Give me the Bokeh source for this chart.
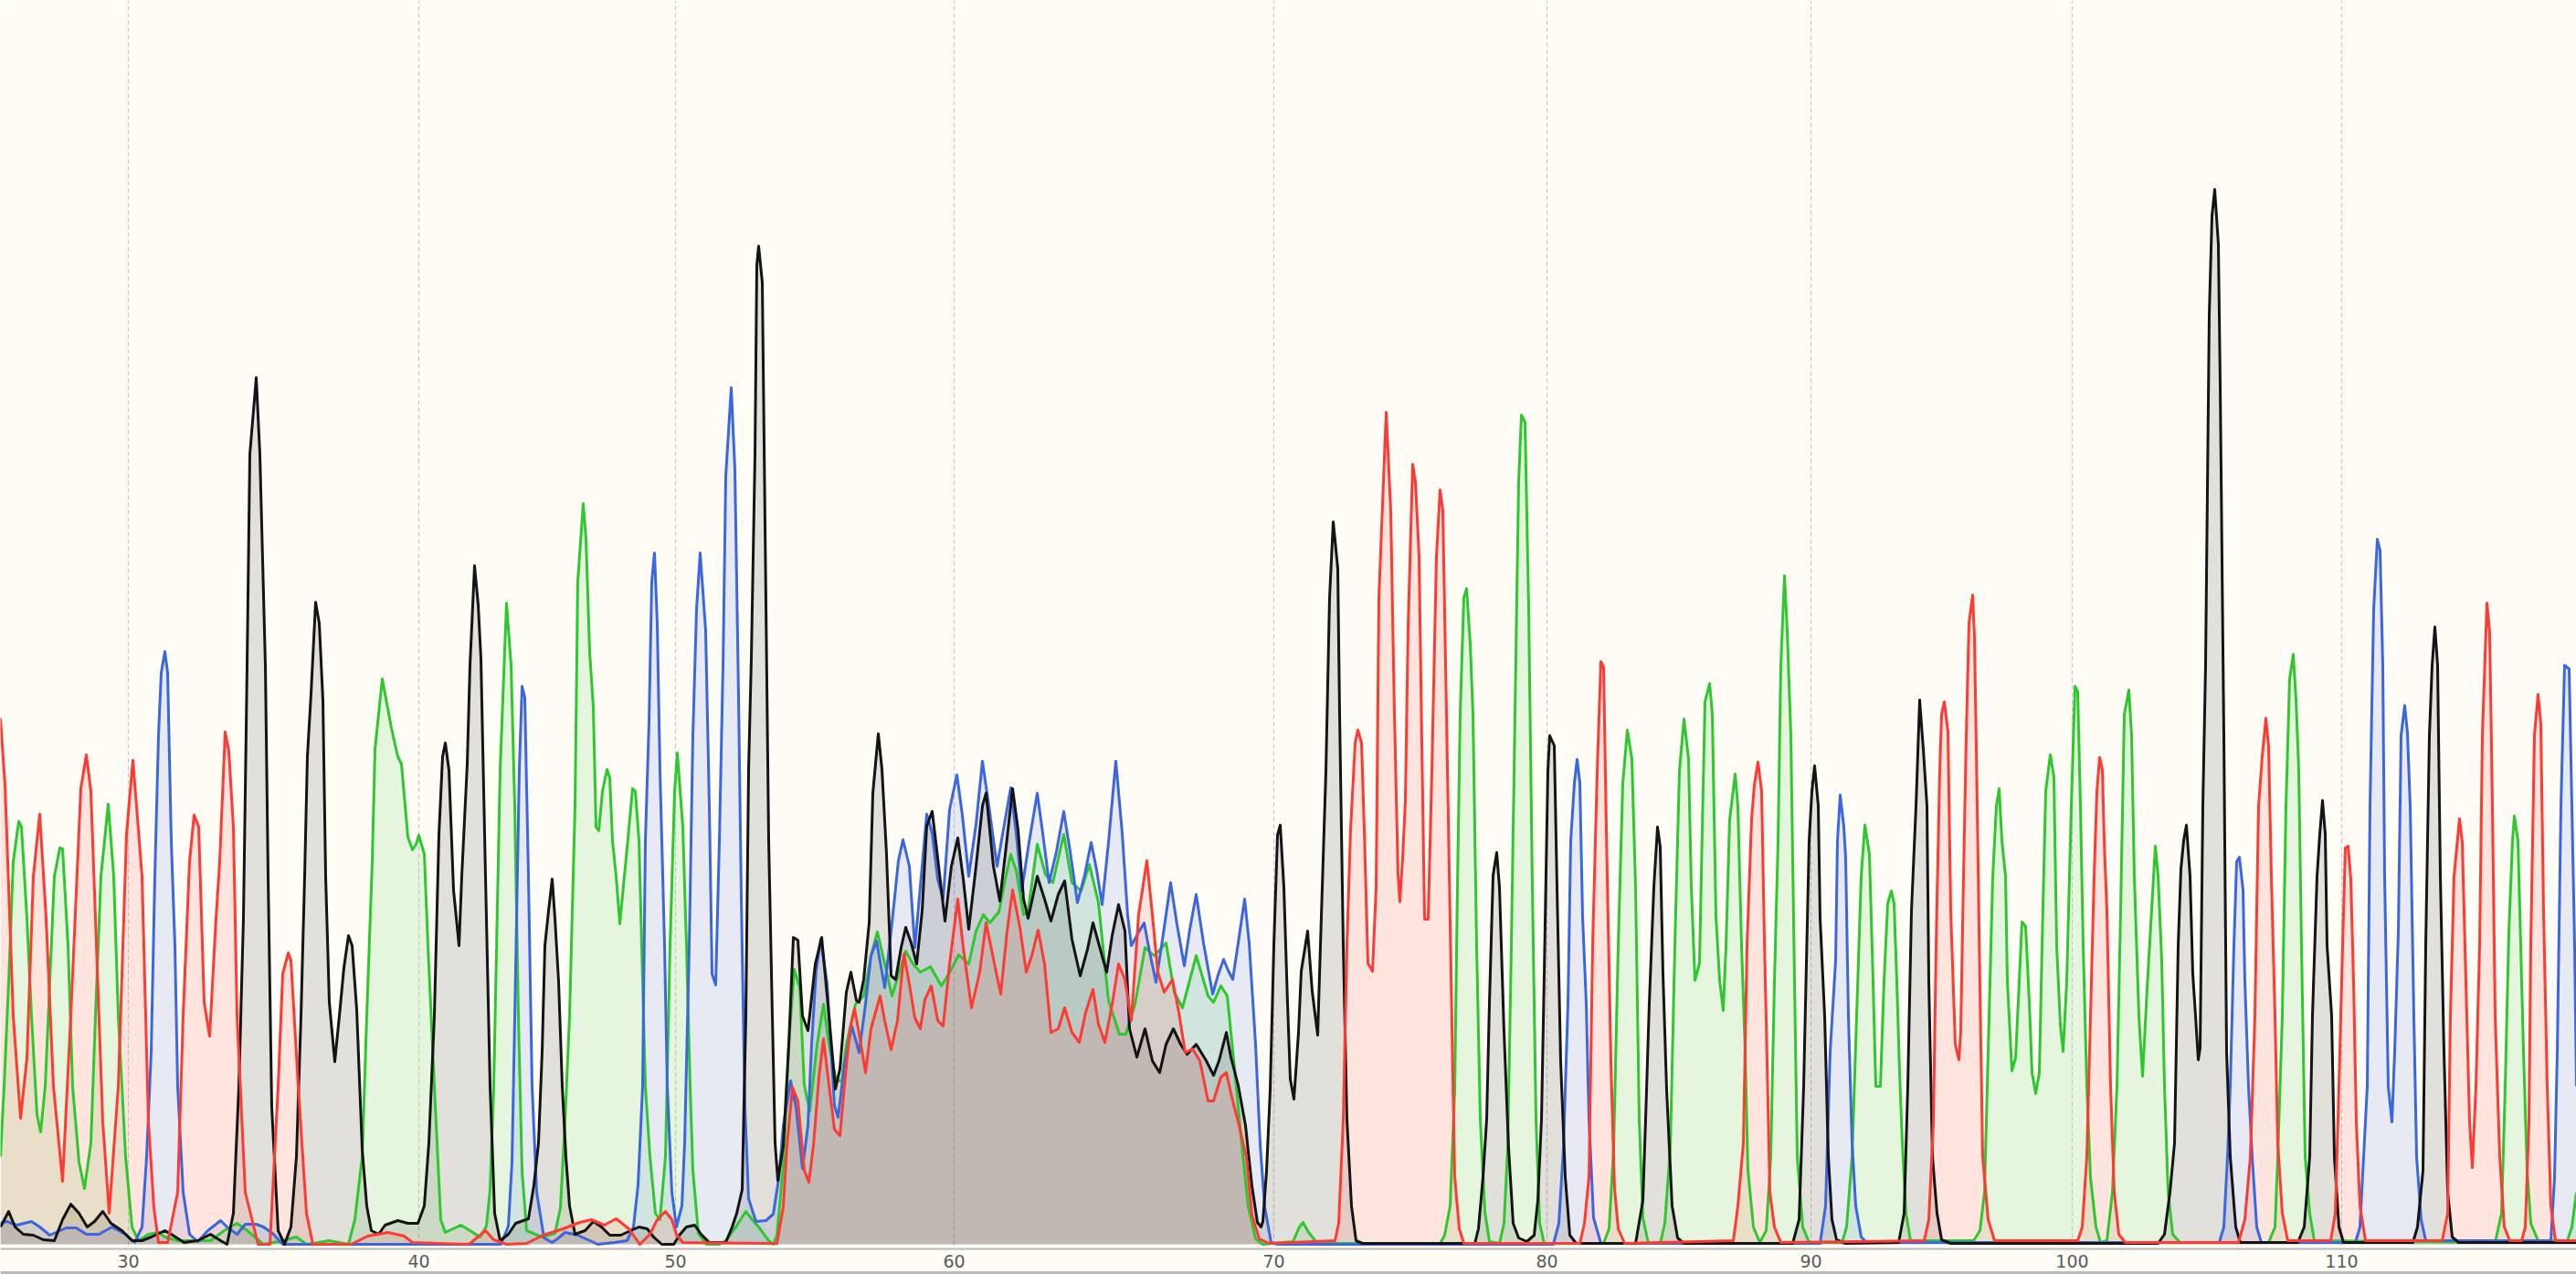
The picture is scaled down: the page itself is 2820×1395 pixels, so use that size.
from bokeh.plotting import figure
from bokeh.models import FixedTicker, Range1d, Span
from bokeh.core.properties import value
from bokeh.embed import file_html
from bokeh.resources import INLINE

# ---- base-call tick positions (scan units) and their labels ----
tick_pos = [140, 458, 739, 1044, 1394, 1693, 1982, 2268, 2563]
tick_labels = ["30", "40", "50", "60", "70", "80", "90", "100", "110"]

# ---- trace samples: (scan, signal) ----
trace_A = [(0,96),(4,173),(9,288),(14,419),(20,463),(23,457),(29,357),(34,250),(40,142),(44,123),(49,173),(54,288),(59,403),(65,434),(68,433),(74,327),(79,173),(86,90),(92,61),(99,111),(104,250),(110,403),(118,482),(124,403),(129,250),(137,96),(144,19),(151,4),(162,11),(173,13),(180,8),(194,4),(216,4),(230,4),(245,15),(259,23),(270,15),(288,0),(309,4),(324,8),(335,0),(360,4),(381,0),(388,27),(396,96),(401,250),(407,419),(410,542),(418,619),(428,565),(435,534),(439,526),(446,446),(451,432),(455,438),(458,448),(464,427),(468,327),(475,173),(482,27),(487,13),(504,21),(514,15),(525,8),(532,20),(536,60),(540,173),(547,519),(554,702),(559,634),(563,480),(567,250),(571,80),(576,15),(593,8),(607,12),(613,40),(618,134),(623,250),(629,480),(632,726),(638,811),(641,772),(645,649),(649,588),(652,457),(655,453),(659,496),(664,520),(667,511),(670,442),(674,403),(678,351),(683,403),(686,434),(692,499),(695,496),(699,442),(702,327),(706,173),(711,96),(717,34),(722,27),(728,96),(733,327),(738,496),(741,538),(747,457),(751,327),(755,173),(758,81),(764,12),(773,0),(787,0),(794,4),(805,19),(816,36),(823,27),(830,19),(841,4),(846,0),(850,10),(857,86),(863,219),(869,301),(875,281),(880,174),(886,146),(894,219),(901,263),(907,219),(915,179),(921,179),(926,219),(936,263),(945,272),(953,316),(960,342),(968,307),(976,272),(984,298),(991,321),(999,307),(1007,298),(1018,304),(1030,283),(1037,294),(1049,317),(1060,307),(1068,343),(1076,361),(1083,352),(1093,364),(1100,400),(1106,427),(1112,409),(1120,361),(1125,365),(1135,438),(1144,405),(1152,396),(1164,449),(1173,396),(1183,387),(1192,416),(1202,374),(1213,267),(1225,230),(1232,230),(1242,263),(1253,325),(1263,316),(1276,330),(1285,276),(1294,259),(1309,316),(1322,272),(1328,265),(1336,283),(1343,272),(1351,192),(1359,108),(1366,41),(1374,6),(1382,0),(1415,3),(1422,19),(1426,24),(1432,13),(1442,1),(1576,1),(1581,10),(1587,42),(1592,169),(1595,391),(1598,581),(1602,708),(1605,718),(1609,657),(1612,581),(1616,327),(1620,137),(1625,36),(1630,3),(1641,1),(1646,23),(1650,105),(1654,327),(1658,581),(1662,835),(1665,908),(1669,900),(1673,695),(1677,391),(1681,137),(1685,23),(1690,1),(1755,1),(1761,17),(1766,105),(1771,327),(1776,505),(1781,563),(1786,531),(1790,391),(1794,137),(1798,29),(1804,1),(1817,1),(1822,23),(1828,105),(1833,327),(1838,518),(1843,575),(1848,531),(1851,391),(1855,289),(1860,308),(1863,454),(1866,594),(1871,614),(1874,581),(1878,359),(1882,289),(1886,256),(1889,327),(1893,465),(1899,515),(1902,480),(1906,327),(1910,211),(1913,81),(1919,19),(1926,2),(1933,15),(1938,96),(1942,288),(1946,442),(1949,634),(1953,732),(1956,672),(1960,557),(1964,288),(1967,96),(1973,19),(1980,2),(2016,2),(2021,19),(2027,96),(2032,250),(2037,403),(2041,459),(2046,427),(2050,288),(2053,173),(2058,173),(2062,288),(2066,373),(2070,387),(2073,373),(2076,288),(2079,188),(2082,111),(2086,34),(2091,4),(2160,4),(2167,15),(2172,57),(2176,211),(2181,403),(2185,480),(2188,499),(2191,442),(2195,403),(2197,288),(2202,190),(2206,204),(2210,288),(2213,353),(2217,348),(2221,265),(2224,188),(2228,165),(2232,188),(2235,327),(2239,496),(2244,536),(2248,511),(2251,327),(2255,240),(2258,211),(2262,288),(2267,480),(2271,611),(2274,605),(2277,480),(2280,327),(2284,173),(2288,73),(2294,19),(2299,2),(2306,4),(2312,57),(2317,173),(2321,365),(2325,580),(2330,607),(2333,557),(2336,403),(2341,250),(2345,184),(2350,280),(2354,350),(2359,436),(2362,403),(2366,311),(2369,173),(2373,57),(2378,11),(2386,2),(2483,2),(2490,19),(2493,96),(2498,250),(2502,480),(2506,619),(2510,646),(2513,596),(2516,519),(2519,327),(2523,96),(2528,34),(2533,4),(2731,2),(2738,34),(2742,173),(2746,342),(2750,442),(2752,469),(2756,442),(2759,327),(2762,211),(2766,81),(2770,23),(2778,4),(2810,4),(2815,19),(2820,57)]

trace_C = [(0,23),(7,25),(18,21),(34,25),(43,19),(54,10),(72,18),(83,18),(94,11),(108,11),(122,19),(137,11),(147,2),(155,19),(160,96),(165,211),(169,403),(173,557),(176,626),(180,649),(183,626),(187,442),(191,327),(194,173),(200,57),(207,11),(216,3),(227,15),(241,26),(248,19),(259,11),(268,22),(280,22),(288,19),(299,11),(309,0),(548,0),(556,20),(560,90),(564,300),(568,520),(571,611),(574,599),(578,403),(582,173),(587,57),(595,7),(604,2),(611,7),(618,13),(632,10),(654,0),(672,2),(686,4),(693,19),(698,65),(703,173),(706,442),(710,572),(713,726),(716,757),(719,680),(722,519),(727,327),(730,173),(735,57),(740,19),(746,42),(749,111),(754,326),(758,557),(762,695),(766,757),(772,672),(776,480),(779,296),(783,284),(787,442),(791,634),(794,841),(800,938),(804,849),(808,600),(811,380),(815,150),(819,50),(827,25),(838,26),(846,33),(852,72),(857,130),(865,179),(871,150),(878,83),(884,130),(888,219),(893,300),(898,334),(905,285),(913,152),(917,139),(924,197),(932,239),(940,210),(947,263),(953,316),(959,332),(968,281),(976,352),(983,420),(988,443),(995,414),(1001,325),(1009,414),(1014,471),(1020,450),(1026,400),(1032,378),(1039,476),(1047,514),(1053,470),(1060,403),(1068,460),(1075,529),(1082,480),(1091,414),(1099,460),(1106,500),(1112,450),(1118,387),(1126,440),(1135,494),(1141,450),(1148,396),(1156,430),(1164,474),(1171,430),(1179,374),(1187,405),(1194,440),(1200,410),(1206,372),(1213,440),(1221,529),(1228,450),(1234,360),(1238,327),(1245,340),(1252,352),(1258,320),(1265,287),(1273,340),(1281,396),(1288,350),(1296,305),(1302,345),(1309,383),(1317,330),(1327,274),(1333,295),(1339,312),(1344,300),(1349,290),(1355,330),(1362,378),(1367,330),(1374,219),(1379,110),(1384,41),(1391,2),(1398,0),(1700,0),(1706,23),(1711,105),(1716,264),(1719,442),(1723,505),(1726,531),(1729,505),(1732,359),(1736,264),(1739,137),(1744,29),(1752,1),(1992,1),(1998,42),(2003,211),(2009,311),(2011,442),(2014,492),(2018,457),(2020,423),(2023,250),(2027,111),(2031,42),(2037,8),(2043,2),(2429,2),(2434,19),(2438,96),(2441,173),(2445,327),(2448,419),(2451,424),(2455,388),(2457,288),(2461,173),(2465,96),(2470,19),(2475,2),(2578,2),(2583,19),(2587,96),(2591,173),(2594,480),(2598,695),(2602,772),(2605,760),(2608,634),(2610,403),(2614,173),(2618,134),(2621,211),(2625,342),(2628,557),(2632,590),(2635,560),(2638,480),(2642,250),(2645,96),(2650,27),(2655,4),(2792,4),(2796,73),(2799,211),(2803,480),(2807,634),(2812,630),(2815,480),(2818,327),(2820,173)]

trace_G = [(0,19),(9,36),(16,19),(25,11),(36,10),(47,5),(59,4),(68,27),(77,44),(86,34),(95,19),(103,25),(112,36),(121,23),(133,15),(144,4),(155,4),(165,8),(180,15),(187,11),(201,2),(216,4),(230,11),(241,4),(248,0),(255,34),(261,173),(266,357),(270,634),(273,865),(280,949),(284,865),(290,634),(293,403),(297,150),(304,15),(311,0),(318,19),(324,96),(329,250),(333,403),(336,534),(340,603),(345,703),(349,680),(353,596),(356,403),(360,265),(366,200),(371,250),(376,303),(381,338),(385,327),(390,257),(396,104),(401,42),(406,15),(414,11),(421,21),(435,26),(446,23),(457,23),(464,42),(469,111),(475,250),(480,449),(484,534),(487,549),(491,519),(496,388),(502,327),(505,403),(511,526),(514,634),(519,743),(523,700),(526,641),(531,403),(536,173),(541,34),(547,4),(556,11),(564,23),(578,28),(584,65),(589,111),(593,211),(596,327),(600,365),(604,400),(607,357),(611,288),(615,173),(619,96),(623,42),(629,11),(640,15),(649,25),(658,19),(667,10),(679,10),(690,15),(699,19),(708,17),(715,8),(724,0),(737,0),(744,11),(751,19),(760,21),(767,11),(776,2),(794,2),(801,19),(806,34),(812,60),(816,250),(819,519),(822,642),(826,865),(828,1072),(830,1093),(834,1053),(837,788),(841,442),(845,250),(848,111),(851,70),(857,108),(863,219),(868,336),(873,333),(878,250),(884,234),(892,307),(899,336),(905,272),(914,170),(919,192),(926,276),(931,298),(937,267),(940,265),(945,290),(951,352),(955,494),(961,559),(965,520),(970,427),(975,294),(980,290),(986,325),(991,347),(997,330),(1003,307),(1009,365),(1014,458),(1020,474),(1026,423),(1034,354),(1041,414),(1048,445),(1054,400),(1060,345),(1068,414),(1075,480),(1079,494),(1087,414),(1094,376),(1100,427),(1108,499),(1114,454),(1120,378),(1125,357),(1135,403),(1143,378),(1150,354),(1158,383),(1165,398),(1173,334),(1182,294),(1190,323),(1196,352),(1204,323),(1211,298),(1217,338),(1224,372),(1231,343),(1236,236),(1244,205),(1253,236),(1261,201),(1269,188),(1276,219),(1284,236),(1292,219),(1299,208),(1309,219),(1320,201),(1328,185),(1334,201),(1342,232),(1347,205),(1355,174),(1363,130),(1370,64),(1376,24),(1380,19),(1382,25),(1386,80),(1390,169),(1394,327),(1398,448),(1401,459),(1405,391),(1409,264),(1412,181),(1416,159),(1421,232),(1424,299),(1431,343),(1436,277),(1442,229),(1445,327),(1451,518),(1455,708),(1459,791),(1464,740),(1466,581),(1470,327),(1474,137),(1479,42),(1484,4),(1491,1),(1614,1),(1618,17),(1623,74),(1627,137),(1630,264),(1634,404),(1638,429),(1641,391),(1646,232),(1651,105),(1656,23),(1662,7),(1671,3),(1679,10),(1683,48),(1687,137),(1690,296),(1694,518),(1696,557),(1701,546),(1704,391),(1708,200),(1713,74),(1718,10),(1725,1),(1790,1),(1798,48),(1801,137),(1805,264),(1810,391),(1814,457),(1817,435),(1820,296),(1824,169),(1830,42),(1836,7),(1843,1),(1962,1),(1969,27),(1974,173),(1980,442),(1983,496),(1986,524),(1990,480),(1992,357),(1997,250),(2001,96),(2005,27),(2010,5),(2020,1),(2078,2),(2084,34),(2088,173),(2092,365),(2097,480),(2101,596),(2105,542),(2109,480),(2111,288),(2115,96),(2120,34),(2125,5),(2135,1),(2362,1),(2369,11),(2375,57),(2380,111),(2384,327),(2387,411),(2390,442),(2393,459),(2397,403),(2400,296),(2403,250),(2406,202),(2408,215),(2411,480),(2414,634),(2418,1018),(2421,1126),(2424,1155),(2428,1095),(2430,941),(2434,557),(2437,211),(2441,96),(2447,19),(2452,2),(2515,2),(2522,19),(2528,96),(2531,250),(2536,403),(2539,449),(2542,486),(2545,449),(2547,327),(2552,250),(2555,96),(2560,19),(2565,2),(2641,2),(2646,19),(2652,81),(2655,327),(2659,557),(2662,634),(2665,676),(2668,634),(2671,403),(2675,211),(2679,57),(2684,8),(2691,2),(2820,2)]

trace_T = [(0,576),(5,503),(14,250),(22,138),(29,204),(36,403),(43,471),(50,357),(58,173),(68,69),(77,250),(88,499),(94,536),(99,496),(104,357),(112,134),(119,34),(129,173),(138,449),(145,530),(155,403),(162,134),(168,40),(173,2),(183,2),(194,57),(200,250),(207,419),(212,470),(217,457),(223,265),(229,228),(236,357),(240,419),(246,561),(250,540),(255,457),(259,250),(268,57),(282,0),(295,0),(304,173),(309,296),(315,319),(318,311),(326,173),(335,34),(342,0),(384,0),(402,9),(424,13),(442,9),(451,2),(513,0),(525,10),(531,15),(540,5),(554,0),(576,1),(594,10),(616,17),(634,24),(647,27),(661,21),(674,28),(688,17),(700,0),(711,11),(719,27),(728,36),(735,27),(740,11),(747,2),(850,1),(857,41),(861,108),(867,172),(873,157),(880,81),(885,68),(890,108),(896,183),(901,225),(907,174),(913,126),(919,119),(924,174),(930,236),(935,258),(942,219),(947,188),(953,236),(963,272),(968,245),(975,213),(982,245),(989,318),(995,285),(1001,248),(1007,236),(1012,268),(1019,283),(1026,245),(1032,239),(1039,307),(1048,378),(1054,325),(1063,259),(1072,298),(1079,352),(1089,303),(1095,274),(1102,343),(1108,388),(1116,347),(1123,298),(1129,316),(1136,344),(1143,307),(1150,232),(1158,236),(1165,259),(1173,232),(1181,221),(1188,254),(1196,279),(1202,241),(1209,221),(1217,263),(1224,307),(1231,290),(1238,245),(1246,361),(1255,420),(1261,361),(1267,298),(1274,276),(1283,290),(1290,254),(1297,210),(1305,214),(1313,201),(1322,157),(1328,157),(1336,183),(1342,188),(1349,157),(1355,134),(1364,95),(1370,32),(1378,6),(1389,1),(1461,4),(1465,23),(1470,137),(1474,327),(1478,454),(1483,549),(1486,563),(1490,549),(1493,454),(1497,308),(1502,299),(1506,391),(1509,708),(1514,835),(1517,911),(1522,803),(1526,581),(1530,404),(1532,375),(1535,423),(1538,486),(1541,676),(1546,854),(1549,835),(1553,753),(1556,550),(1559,356),(1563,356),(1567,518),(1572,753),(1576,826),(1579,803),(1583,581),(1588,296),(1592,74),(1597,17),(1602,1),(1729,1),(1734,23),(1739,74),(1743,327),(1748,518),(1752,638),(1755,632),(1758,454),(1763,200),(1767,61),(1771,17),(1778,1),(1897,4),(1902,42),(1908,111),(1912,327),(1917,465),(1920,503),(1924,528),(1928,496),(1931,334),(1934,200),(1937,57),(1942,19),(1949,2),(2106,4),(2111,27),(2116,134),(2119,327),(2123,519),(2125,580),(2128,594),(2132,561),(2135,365),(2140,219),(2144,202),(2146,234),(2149,403),(2152,557),(2155,680),(2159,711),(2161,665),(2164,480),(2167,280),(2170,96),(2176,27),(2183,4),(2274,4),(2279,19),(2284,96),(2288,250),(2292,403),(2295,496),(2298,533),(2301,520),(2303,442),(2306,365),(2310,173),(2314,57),(2319,11),(2326,2),(2450,2),(2457,27),(2463,96),(2468,250),(2472,480),(2476,534),(2480,576),(2483,545),(2486,403),(2490,250),(2493,111),(2498,34),(2504,4),(2551,4),(2556,34),(2560,173),(2564,327),(2567,434),(2570,436),(2573,400),(2576,288),(2579,134),(2583,42),(2589,4),(2673,4),(2679,34),(2682,250),(2686,403),(2692,466),(2695,440),(2699,288),(2703,134),(2706,84),(2710,173),(2714,327),(2717,557),(2722,702),(2725,670),(2728,480),(2731,250),(2736,96),(2741,19),(2747,4),(2760,4),(2764,19),(2768,134),(2770,327),(2774,557),(2778,602),(2781,570),(2784,365),(2788,173),(2792,42),(2797,4),(2820,4)]

channels = [
    ("A", trace_A, "#2ec82e"),
    ("C", trace_C, "#3c66e0"),
    ("G", trace_G, "#141414"),
    ("T", trace_T, "#ff3a33"),
]

BG = "#fffdf6"
GRAY = "#b9b9b9"
BASE = -2        # signal level of the trace panel's lower edge
BAND_LOW = -33   # lower edge of the base-number band

p = figure(width=2820, height=1395,
           x_range=Range1d(0, 2820), y_range=Range1d(BAND_LOW, 1362),
           output_backend="svg", toolbar_location=None,
           x_axis_location=None, y_axis_location=None,
           min_border=0,
           background_fill_color=BG, border_fill_color=BG, outline_line_color=None)

# dashed guides at the labelled base positions
p.xgrid.ticker = FixedTicker(ticks=tick_pos)
p.xgrid.grid_line_color = "#c4c4c4"
p.xgrid.grid_line_dash = "5 3"
p.xgrid.grid_line_width = 1
p.ygrid.grid_line_color = None

for name, tr, col in channels:
    xs = [a for a, b in tr]
    ys = [b for a, b in tr]
    p.varea(x=xs, y1=0, y2=ys, fill_color=col, fill_alpha=0.12)

for name, tr, col in channels:
    xs = [a for a, b in tr]
    ys = [b for a, b in tr]
    p.line(xs, ys, line_color=col, line_width=3, line_join="round")

# base-number band below the traces
p.quad(left=[0], right=[2820], bottom=[BAND_LOW], top=[BASE],
       fill_color=BG, line_color=None)
p.add_layout(Span(location=-5, dimension="width", line_color=GRAY, line_width=2))
p.add_layout(Span(location=-31, dimension="width", line_color=GRAY, line_width=3))
p.text(x=tick_pos, y=[-18] * len(tick_pos), text=tick_labels,
       text_align="center", text_baseline="middle",
       text_font=value("DejaVu Sans"), text_font_size="19px", text_color="#5a5a5a")

open("out.html", "w").write(file_html(p, INLINE))
